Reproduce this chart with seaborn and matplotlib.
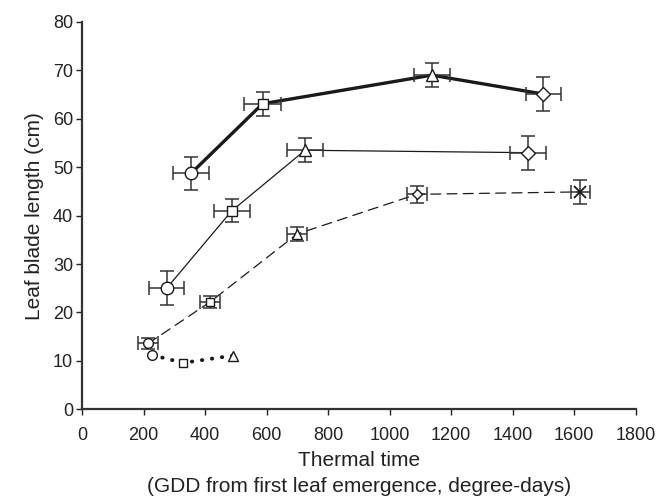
import matplotlib
matplotlib.use("Agg")
import pandas as pd
import matplotlib.pyplot as plt
import seaborn as sns

# ==========================
# Data (GDD, leaf blade length in cm)
# ==========================
thick_x = [354, 587, 1137, 1500]
thick_y = [48.7, 63.1, 69.0, 65.1]
thick_xerr = [59, 59, 58, 58]
thick_yerr = [3.5, 2.5, 2.5, 3.5]
thick_mk = ["o", "s", "^", "D"]

thin_x = [275, 487, 725, 1450]
thin_y = [25.0, 41.0, 53.5, 53.0]
thin_xerr = [58, 58, 58, 58]
thin_yerr = [3.5, 2.4, 2.5, 3.5]
thin_mk = ["o", "s", "^", "D"]

dash_x = [215, 417, 699, 1088, 1620]
dash_y = [13.6, 22.2, 36.2, 44.4, 44.9]
dash_xerr = [32, 33, 33, 32, 31]
dash_yerr = [1.2, 1.2, 1.4, 1.75, 2.4]
dash_mk = ["o", "s", "^", "D", "x"]

dot_x = [229, 329, 490]
dot_y = [11.2, 9.6, 11.1]
dot_mk = ["o", "s", "^"]

series = [
    dict(x=thick_x, y=thick_y, xerr=thick_xerr, yerr=thick_yerr, mk=thick_mk,
         lw=2.4, ls="-", ms=9),
    dict(x=thin_x, y=thin_y, xerr=thin_xerr, yerr=thin_yerr, mk=thin_mk,
         lw=0.9, ls="-", ms=9),
    dict(x=dash_x, y=dash_y, xerr=dash_xerr, yerr=dash_yerr, mk=dash_mk,
         lw=0.9, ls=(0, (8, 5)), ms=7),
    dict(x=dot_x, y=dot_y, xerr=None, yerr=None, mk=dot_mk,
         lw=2.8, ls=(0, (0.1, 2.5)), ms=7),
]

sns.set_style("ticks")
plt.rcParams["font.family"] = ["Liberation Sans", "DejaVu Sans"]

fig = plt.figure(figsize=(6.67, 4.98), dpi=100)
ax = fig.add_axes([0.123, 0.178, 0.830, 0.778])

ink = "#1a1a1a"
bar = "#333333"

for s in series:
    df = pd.DataFrame({"x": s["x"], "y": s["y"], "mk": s["mk"]})
    # connecting line
    sns.lineplot(data=df, x="x", y="y", sort=False, ax=ax, color=ink,
                 linewidth=s["lw"], linestyle=s["ls"], zorder=2,
                 solid_capstyle="round", dash_capstyle="round")
    # error bars
    if s["xerr"] is not None:
        ax.errorbar(s["x"], s["y"], xerr=s["xerr"], yerr=s["yerr"], fmt="none",
                    ecolor=bar, elinewidth=1.1, capsize=5, capthick=1.1, zorder=3)
    # open markers
    for mk, sub in df.groupby("mk", sort=False):
        if mk == "x":
            ax.plot(sub["x"], sub["y"], marker="x", ms=s["ms"] + 1, mew=1.3,
                    color=ink, linestyle="none", zorder=4)
        else:
            m = s["ms"] - 1.5 if mk in ("s", "D") else s["ms"]
            ax.plot(sub["x"], sub["y"], marker=mk, ms=m, mfc="white", mec=ink,
                    mew=1.0, linestyle="none", zorder=4)

ax.set_xlim(0, 1800)
ax.set_ylim(0, 80)
ax.set_xticks(range(0, 1801, 200))
ax.set_yticks(range(0, 81, 10))
ax.tick_params(axis="both", labelsize=13, colors="#222222", length=4.5, width=1)
ax.tick_params(axis="x", pad=8)
ax.tick_params(axis="y", pad=2)
for side in ["left", "bottom"]:
    ax.spines[side].set_color("#333333")
    ax.spines[side].set_linewidth(1.6)
sns.despine(ax=ax)

ax.set_xlabel("Thermal time\n(GDD from first leaf emergence, degree-days)",
              fontsize=15, linespacing=1.5, labelpad=5, color="#222222")
ax.set_ylabel("Leaf blade length (cm)", fontsize=15, labelpad=6, color="#222222")

fig.savefig("out.png", dpi=100)
